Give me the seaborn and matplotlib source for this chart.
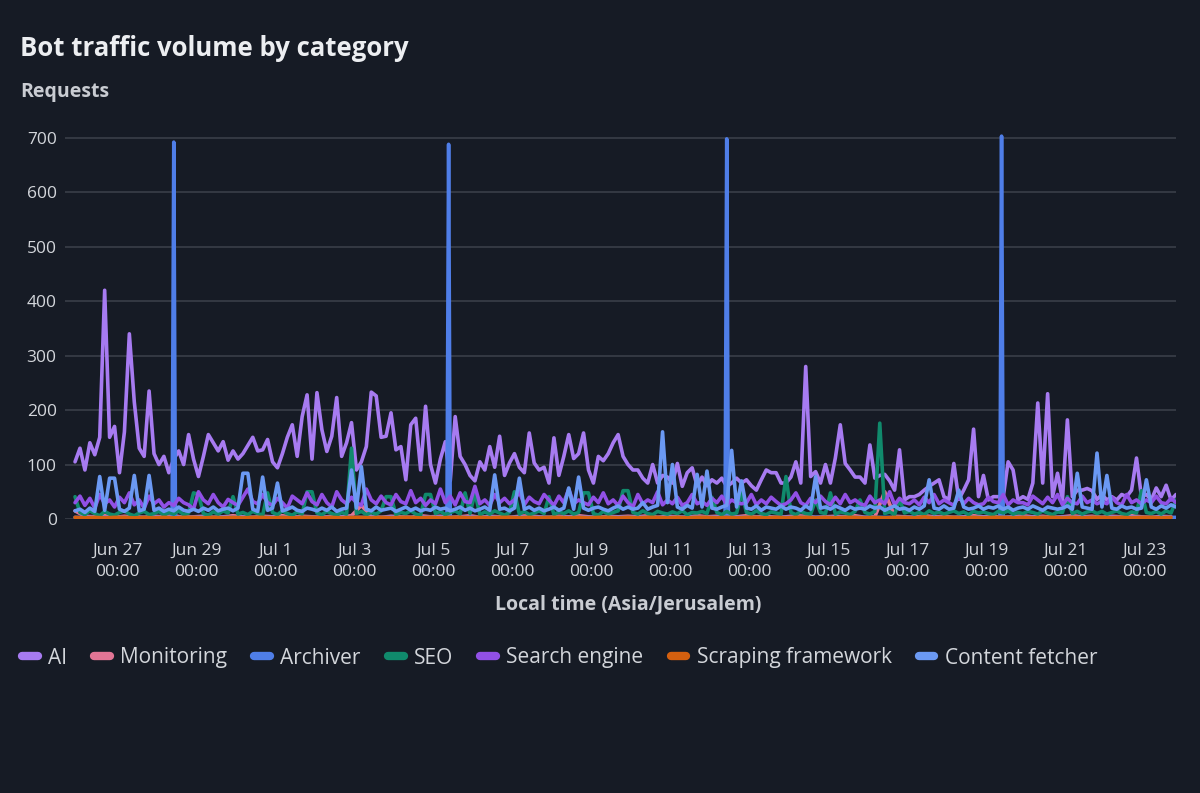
import pandas as pd
import numpy as np
import matplotlib.pyplot as plt
from matplotlib.lines import Line2D
import seaborn as sns

# ---- data (3-hour samples from Jun 25 22:00) ----
start = pd.Timestamp('2025-06-25 22:00')

ai = [
    105, 130, 90, 140, 118, 150, 420, 150,
    170, 85, 160, 340, 215, 130, 115, 235,
    120, 100, 115, 85, 110, 125, 100, 155,
    110, 78, 115, 155, 140, 125, 142, 108,
    125, 110, 120, 135, 150, 125, 127, 146,
    105, 94, 120, 150, 173, 115, 188, 228,
    110, 232, 164, 124, 152, 223, 115, 140,
    177, 90, 105, 133, 233, 226, 150, 152,
    195, 127, 133, 72, 173, 185, 90, 207,
    100, 66, 110, 142, 70, 188, 115, 100,
    80, 70, 105, 90, 133, 95, 152, 80,
    103, 120, 95, 85, 158, 103, 90, 95,
    66, 149, 80, 115, 155, 111, 120, 158,
    90, 66, 115, 107, 120, 140, 155, 115,
    100, 90, 90, 75, 66, 100, 66, 80,
    77, 66, 102, 60, 85, 94, 61, 77,
    61, 72, 66, 75, 60, 66, 75, 66,
    72, 61, 53, 72, 90, 85, 85, 66,
    66, 77, 105, 66, 280, 78, 87, 66,
    100, 66, 112, 173, 102, 90, 77, 77,
    66, 136, 75, 80, 82, 70, 53, 127,
    35, 41, 41, 45, 53, 60, 66, 72,
    41, 36, 102, 36, 53, 72, 165, 41,
    80, 35, 41, 41, 40, 105, 90, 35,
    41, 36, 66, 213, 66, 230, 41, 84,
    35, 182, 41, 53, 53, 56, 52, 36,
    45, 35, 41, 35, 45, 41, 53, 112,
    41, 45, 35, 57, 41, 62, 35, 45,
]

search_engine = [
    30, 42, 25, 38, 20, 45, 28, 35,
    22, 40, 30, 48, 26, 35, 20, 42,
    28, 35, 22, 30, 25, 38, 30, 26,
    18, 50, 35, 28, 45, 30, 22, 36,
    30, 25, 40, 55, 32, 28, 45, 30,
    25, 38, 30, 20, 42, 35, 28, 48,
    32, 26, 45, 30, 22, 50, 35, 28,
    40, 30, 25, 55, 35, 28, 42, 30,
    26, 45, 32, 28, 52, 30, 38, 25,
    35, 28, 55, 30, 42, 26, 48, 32,
    30, 60, 28, 35, 25, 45, 30, 38,
    28, 35, 50, 26, 40, 32, 28, 45,
    35, 25, 42, 30, 55, 28, 35, 30,
    26, 40, 30, 48, 28, 35, 25, 42,
    30, 22, 45, 28, 35, 30, 50, 26,
    35, 28, 40, 25, 30, 45, 28, 32,
    25, 38, 30, 42, 26, 35, 30, 28,
    30, 45, 26, 35, 28, 40, 32, 25,
    28, 35, 48, 30, 25, 38, 30, 42,
    32, 26, 40, 28, 45, 30, 35, 28,
    25, 42, 30, 35, 28, 50, 26, 38,
    30, 28, 35, 26, 40, 30, 45, 28,
    35, 30, 25, 42, 28, 38, 30, 26,
    28, 40, 32, 30, 45, 26, 35, 30,
    30, 26, 42, 35, 28, 40, 30, 45,
    26, 38, 30, 28, 42, 30, 35, 28,
    32, 28, 40, 30, 26, 45, 30, 35,
    28, 35, 30, 42, 30, 28, 38, 30,
]

content_fetcher = [
    15, 18, 12, 20, 14, 78, 16, 75,
    75, 18, 14, 20, 80, 15, 18, 80,
    16, 20, 14, 18, 15, 22, 16, 14,
    18, 14, 20, 16, 22, 15, 18, 20,
    15, 20, 84, 84, 18, 14, 77, 16,
    20, 66, 15, 18, 22, 16, 14, 20,
    18, 15, 20, 16, 22, 14, 18, 20,
    90, 20, 96, 18, 15, 22, 16, 18,
    20, 14, 18, 22, 16, 20, 15, 18,
    16, 22, 18, 20, 15, 18, 22, 16,
    20, 15, 18, 22, 16, 81, 18, 20,
    15, 20, 75, 18, 22, 16, 20, 15,
    18, 22, 16, 20, 57, 18, 77, 20,
    16, 20, 22, 18, 15, 20, 24, 18,
    22, 18, 20, 30, 18, 22, 25, 160,
    30, 100, 22, 18, 25, 20, 82, 22,
    88, 20, 18, 22, 25, 126, 22, 70,
    20, 18, 24, 16, 22, 20, 18, 24,
    18, 22, 20, 16, 24, 18, 78, 20,
    22, 18, 24, 20, 16, 22, 18, 20,
    18, 24, 20, 22, 16, 20, 24, 18,
    20, 16, 22, 18, 24, 72, 20, 18,
    24, 18, 20, 53, 22, 18, 20, 24,
    18, 22, 20, 24, 18, 22, 16, 20,
    22, 18, 24, 20, 16, 22, 20, 18,
    20, 24, 18, 84, 22, 20, 18, 121,
    22, 80, 20, 18, 24, 20, 22, 18,
    20, 72, 22, 18, 24, 20, 26, 22,
]

seo = [
    41, 12, 8, 15, 10, 6, 14, 9,
    7, 12, 15, 9, 6, 11, 14, 8,
    10, 14, 7, 12, 9, 15, 8, 11,
    48, 45, 10, 7, 13, 9, 15, 11,
    41, 9, 12, 8, 14, 10, 7, 48,
    12, 8, 15, 10, 7, 13, 9, 50,
    50, 11, 8, 14, 10, 7, 12, 9,
    130, 10, 14, 8, 12, 9, 15, 41,
    41, 8, 12, 10, 15, 9, 7, 45,
    45, 10, 14, 8, 12, 15, 9, 48,
    10, 48, 8, 13, 9, 15, 11, 7,
    12, 50, 9, 14, 8, 11, 15, 10,
    41, 8, 13, 10, 15, 9, 12, 48,
    48, 10, 7, 14, 9, 12, 15, 52,
    52, 12, 9, 15, 10, 8, 14, 11,
    9, 13, 10, 15, 8, 12, 11, 14,
    10, 40, 12, 8, 14, 9, 11, 48,
    12, 9, 15, 10, 8, 13, 11, 9,
    78, 12, 8, 14, 10, 9, 35, 12,
    10, 48, 9, 13, 11, 8, 14, 35,
    12, 9, 14, 176, 10, 13, 8, 36,
    11, 14, 9, 12, 8, 15, 10, 13,
    9, 12, 15, 10, 13, 8, 14, 11,
    13, 10, 8, 14, 11, 15, 9, 12,
    10, 14, 12, 9, 15, 11, 8, 13,
    12, 41, 10, 14, 9, 13, 15, 10,
    14, 9, 12, 15, 10, 8, 13, 11,
    52, 12, 10, 14, 9, 15, 11, 35,
]

# 6-hour samples
monitoring = [
    15, 5, 4, 6, 3, 5, 4, 3,
    5, 4, 6, 3, 4, 5, 3, 4,
    6, 4, 3, 5, 4, 6, 3, 5,
    4, 3, 5, 4, 6, 25, 4, 3,
    5, 4, 3, 6, 4, 5, 3, 4,
    6, 3, 5, 4, 3, 5, 6, 4,
    3, 5, 4, 6, 4, 3, 5, 4,
    5, 4, 6, 3, 5, 4, 3, 6,
    4, 5, 3, 4, 6, 4, 5, 3,
    4, 6, 5, 3, 4, 5, 4, 6,
    3, 4, 50, 5, 4, 3, 6, 4,
    5, 3, 4, 6, 4, 5, 3, 4,
    6, 4, 5, 3, 4, 6, 4, 5,
    3, 5, 4, 6, 4, 3, 5, 4,
]

scraping = [
    3, 2, 3, 2, 3, 3, 2, 3,
    2, 3, 2, 3, 3, 2, 3, 2,
    3, 2, 3, 3, 2, 3, 2, 3,
    3, 2, 3, 2, 3, 3, 2, 3,
    2, 3, 3, 2, 3, 2, 3, 3,
    2, 3, 2, 3, 3, 2, 3, 2,
    3, 3, 2, 3, 2, 3, 3, 2,
    3, 2, 3, 3, 2, 3, 2, 3,
    3, 2, 3, 2, 3, 3, 2, 3,
    2, 3, 3, 2, 3, 2, 3, 3,
    2, 3, 2, 3, 3, 2, 4, 2,
    3, 3, 2, 3, 2, 3, 3, 2,
    3, 2, 3, 3, 2, 3, 2, 3,
    3, 2, 3, 2, 3, 3, 2, 3,
]

# archiver: mostly flat, four weekly bursts (hours since start)
archiver_hours = [0, 59, 60, 61, 226, 227, 228, 395, 396, 397, 562, 563, 564, 669]
archiver = [3, 3, 692, 3, 3, 688, 3, 3, 698, 3, 3, 703, 3, 3]

categories = ['AI', 'Monitoring', 'Archiver', 'SEO', 'Search engine',
              'Scraping framework', 'Content fetcher']
colors = ['#a77bf1', '#e27595', '#4f7ee8', '#108a6c', '#9150e6',
          '#d4600f', '#6b99f3']

# ---- build long table ----
def frame(name, values, hours):
    return pd.DataFrame({'time': start + pd.to_timedelta(hours, unit='h'),
                         'requests': values, 'category': name})

h3 = np.arange(len(ai)) * 3
h6 = np.arange(len(monitoring)) * 6
df = pd.concat([
    frame('AI', ai, h3),
    frame('Monitoring', monitoring, h6),
    frame('Archiver', archiver, archiver_hours),
    frame('SEO', seo, h3),
    frame('Search engine', search_engine, h3),
    frame('Scraping framework', scraping, h6),
    frame('Content fetcher', content_fetcher, h3),
], ignore_index=True)

# ---- style ----
bg = '#161b25'
sns.set_theme(style='dark', rc={'axes.facecolor': bg, 'figure.facecolor': bg})
plt.rcParams['font.family'] = ['Open Sans', 'DejaVu Sans']

fig = plt.figure(figsize=(12, 7.93), dpi=100)
ax = fig.add_axes([65 / 1200, 1 - 519 / 793, (1176 - 65) / 1200, (519 - 116) / 793])

sns.lineplot(data=df, x='time', y='requests', hue='category', hue_order=categories,
             palette=colors, estimator=None, linewidth=2.6, legend=False, ax=ax)

ax.set_ylim(0, 740)
ax.set_xlim(start - pd.Timedelta(hours=6.1), start + pd.Timedelta(hours=669))
ax.set_yticks(range(0, 701, 100))
ax.grid(axis='y', color='#3a3f49', linewidth=1.2)
ax.grid(axis='x', visible=False)
ax.set_axisbelow(True)
for s in ax.spines.values():
    s.set_visible(False)

ticks = pd.date_range('2025-06-27', '2025-07-23', freq='2D')
ax.set_xticks(ticks)
ax.set_xticklabels([f"{t:%b} {t.day}\n00:00" for t in ticks], linespacing=1.45)
ax.tick_params(axis='x', colors='#5c616b', length=9, width=1.2, pad=8,
               labelcolor='#d3d6db', labelsize=12.5)
ax.tick_params(axis='y', length=0, pad=6, labelcolor='#d3d6db', labelsize=12.5)
ax.set_xlabel('')
ax.set_ylabel('')

fig.text(20 / 1200, 1 - 48 / 793, 'Bot traffic volume by category', fontsize=18.5,
         fontweight='bold', color='#eceef1', va='center')
fig.text(20 / 1200, 1 - 92 / 793, 'Requests', fontsize=14, fontweight='bold',
         color='#c9ccd2', va='center')
fig.text(628 / 1200, 1 - 604 / 793, 'Local time (Asia/Jerusalem)', fontsize=14,
         fontweight='bold', color='#c9ccd2', ha='center', va='center')

handles = [Line2D([0], [0], color=c, lw=6, solid_capstyle='round') for c in colors]
fig.legend(handles, categories, loc='center left', bbox_to_anchor=(22 / 1200, 1 - 658 / 793),
           ncol=7, frameon=False, fontsize=15, handlelength=0.75, handletextpad=0.5,
           columnspacing=1.3, borderaxespad=0, borderpad=0, labelcolor='#d3d6db')

fig.savefig('out.png', dpi=100, facecolor=bg)
